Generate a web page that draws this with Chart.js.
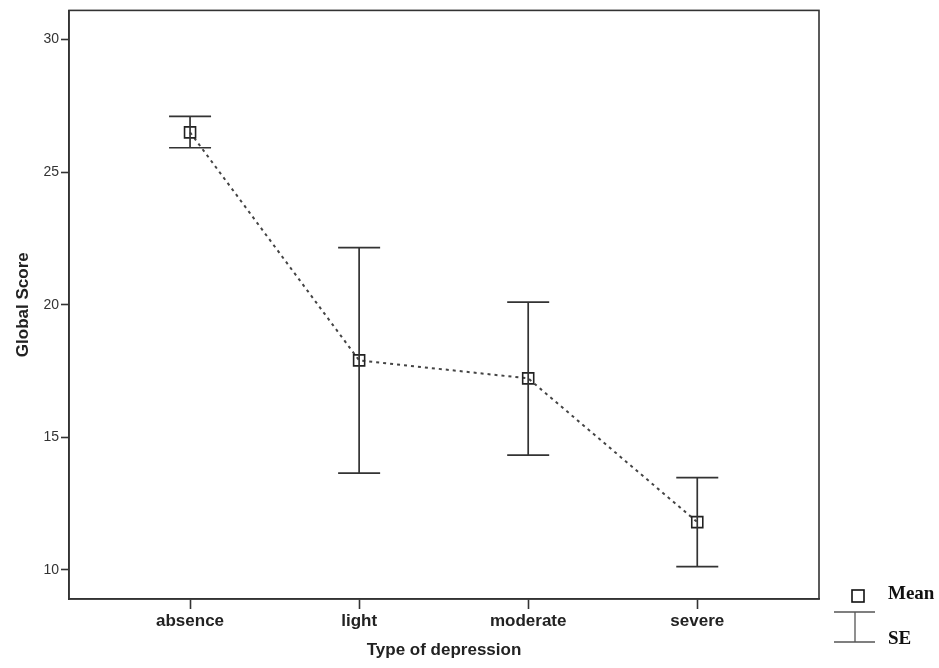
<!DOCTYPE html>
<html>
<head>
<meta charset="utf-8">
<script src="https://cdn.jsdelivr.net/npm/chart.js@4.4.1/dist/chart.umd.min.js"></script>
<style>
  html, body { margin: 0; padding: 0; background: #fff; }
  #wrap { width: 939px; height: 668px; }
</style>
</head>
<body>
<div id="wrap"><canvas id="chart" width="939" height="668"></canvas></div>
<script>
// ── DATA ──
const categories = ['absence', 'light', 'moderate', 'severe'];
const means      = [26.5, 17.9, 17.22, 11.8];
const seUpper    = [27.1, 22.15, 20.1, 13.48];
const seLower    = [25.92, 13.65, 14.33, 10.12];
const yTicks     = [10, 15, 20, 25, 30];

const AXIS = '#333';
const FONT = "'Liberation Sans', Arial, sans-serif";
const SERIF = "'Liberation Serif', 'Times New Roman', serif";

// frame round the plot area
const framePlugin = {
    id: 'frame',
    beforeDatasetsDraw(chart) {
        const { ctx, chartArea: a } = chart;
        ctx.save();
        ctx.strokeStyle = AXIS;
        ctx.lineWidth = 1.6;
        ctx.strokeRect(a.left, a.top, a.right - a.left, a.bottom - a.top);
        ctx.restore();
    }
};

// SE bars
const errorBars = {
    id: 'errorBars',
    afterDatasetsDraw(chart) {
        const { ctx, scales: { x, y } } = chart;
        const cap = 21;
        ctx.save();
        ctx.strokeStyle = AXIS;
        ctx.lineWidth = 1.7;
        categories.forEach((c, i) => {
            const px = x.getPixelForValue(i);
            const top = y.getPixelForValue(seUpper[i]);
            const bot = y.getPixelForValue(seLower[i]);
            ctx.beginPath();
            ctx.moveTo(px, top); ctx.lineTo(px, bot);
            ctx.moveTo(px - cap, top); ctx.lineTo(px + cap, top);
            ctx.moveTo(px - cap, bot); ctx.lineTo(px + cap, bot);
            ctx.stroke();
        });
        ctx.restore();
    }
};

// legend at bottom right
const sideLegend = {
    id: 'sideLegend',
    afterDraw(chart) {
        const { ctx } = chart;
        ctx.save();
        ctx.strokeStyle = '#111';
        ctx.lineWidth = 1.6;
        ctx.strokeRect(852, 590, 12, 12);
        ctx.strokeStyle = '#555';
        ctx.lineWidth = 1.3;
        ctx.beginPath();
        ctx.moveTo(834, 612); ctx.lineTo(875, 612);
        ctx.moveTo(834, 642); ctx.lineTo(875, 642);
        ctx.moveTo(855, 612); ctx.lineTo(855, 642);
        ctx.stroke();
        ctx.fillStyle = '#111';
        ctx.font = `bold 19px ${SERIF}`;
        ctx.textBaseline = 'middle';
        ctx.fillText('Mean', 888, 594);
        ctx.fillText('SE', 888, 639);
        ctx.restore();
    }
};

new Chart(document.getElementById('chart'), {
    type: 'scatter',
    data: {
        datasets: [{
            data: means.map((m, i) => ({ x: i, y: m })),
            showLine: true,
            borderColor: '#444',
            borderWidth: 2,
            borderDash: [3, 4],
            pointStyle: 'rect',
            pointRadius: 7.8,
            pointHoverRadius: 7.8,
            pointBorderWidth: 1.6,
            pointBorderColor: '#222',
            pointBackgroundColor: 'rgba(0,0,0,0)'
        }]
    },
    options: {
        responsive: false,
        animation: false,
        layout: { padding: { left: 0, right: 120, top: 10, bottom: 0 } },
        plugins: { legend: { display: false }, tooltip: { enabled: false } },
        scales: {
            x: {
                type: 'linear',
                min: -0.716, max: 3.72,
                afterBuildTicks: s => { s.ticks = categories.map((c, i) => ({ value: i })); },
                afterFit: s => { s.height = 69; },
                ticks: {
                    callback: v => categories[v],
                    color: '#222', padding: 2,
                    font: { family: FONT, size: 17, weight: 'bold' }
                },
                grid: { drawOnChartArea: false, tickLength: 10, tickColor: AXIS, tickWidth: 1.6 },
                border: { color: AXIS, width: 1.6 },
                title: {
                    display: true, text: 'Type of depression', color: '#222',
                    font: { family: FONT, size: 17, weight: 'bold' },
                    padding: { top: 0, bottom: 7 }
                }
            },
            y: {
                min: 8.9, max: 31.1,
                afterBuildTicks: s => { s.ticks = yTicks.map(v => ({ value: v })); },
                afterFit: s => { s.width = 69; },
                ticks: {
                    color: '#333', padding: 2,
                    font: { family: FONT, size: 14 }
                },
                grid: { drawOnChartArea: false, tickLength: 8, tickColor: AXIS, tickWidth: 1.6 },
                border: { color: AXIS, width: 1.6 },
                title: {
                    display: true, text: 'Global Score', color: '#222',
                    font: { family: FONT, size: 17, weight: 'bold' },
                    padding: { top: 13, bottom: 0 }
                }
            }
        }
    },
    plugins: [framePlugin, errorBars, sideLegend]
});
</script>
</body>
</html>
